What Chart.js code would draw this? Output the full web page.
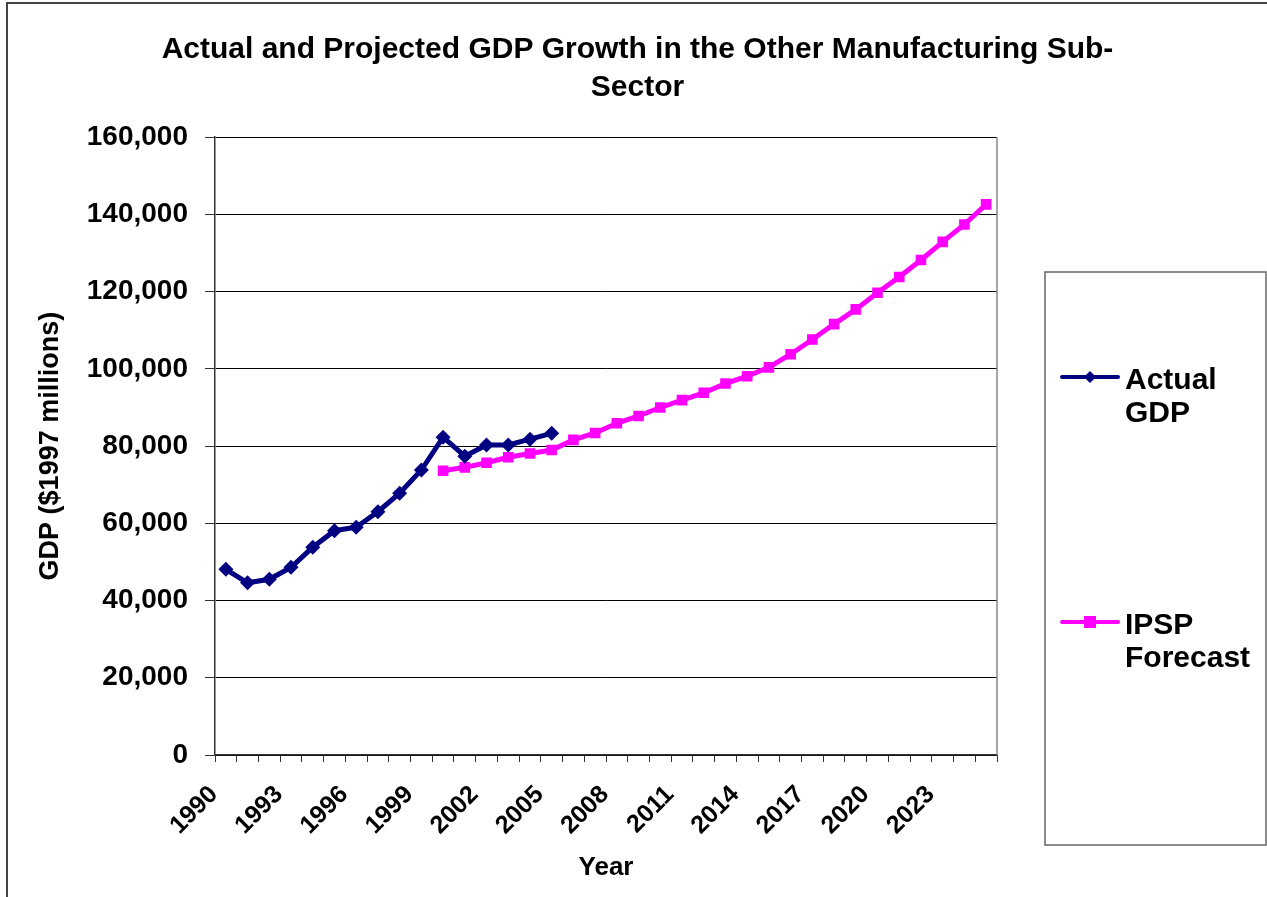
<!DOCTYPE html>
<html>
<head>
<meta charset="utf-8">
<title>Actual and Projected GDP Growth</title>
<script src="https://cdn.jsdelivr.net/npm/chart.js@4.4.1/dist/chart.umd.min.js"></script>
<style>
  html, body { margin: 0; padding: 0; background: #fff; }
  #wrap { width: 1267px; height: 897px; }
</style>
</head>
<body>
<div id="wrap"><canvas id="gdpChart" width="1267" height="897"></canvas></div>
<script>
// --- DATA ---
const years = ['1990', '1991', '1992', '1993', '1994', '1995', '1996', '1997', '1998', '1999',
               '2000', '2001', '2002', '2003', '2004', '2005', '2006', '2007', '2008', '2009',
               '2010', '2011', '2012', '2013', '2014', '2015', '2016', '2017', '2018', '2019',
               '2020', '2021', '2022', '2023', '2024', '2025'];

// Actual GDP, 1990 -> 2005 ($1997 millions)
const actualGdp = [48100, 44600, 45500, 48600, 53800, 58100, 59000, 63000, 67800, 73800,
                   82300, 77400, 80300, 80300, 81800, 83300];

// IPSP forecast, 2000 -> 2025
const forecastStart = '2000';
const forecastGdp = [73600, 74500, 75700, 77100, 78100, 79000, 81600, 83400, 85900, 87800,
                     90000, 91900, 93800, 96200, 98100, 100400, 103800, 107600, 111600, 115400,
                     119700, 123800, 128200, 132900, 137400, 142600];

const yTicks = [0, 20000, 40000, 60000, 80000, 100000, 120000, 140000, 160000];

// --- POINTS ---
const actualPoints = actualGdp.map((v, i) => ({ x: years[i], y: v }));
const fStart = years.indexOf(forecastStart);
const forecastPoints = forecastGdp.map((v, i) => ({ x: years[fStart + i], y: v }));

Chart.defaults.font.family = '"Liberation Sans", Arial, sans-serif';
Chart.defaults.color = '#000';

// cadre extérieur (haut + gauche visibles)
const framePlugin = {
    id: 'frame',
    beforeDraw(chart) {
        const c = chart.ctx;
        c.save();
        c.fillStyle = '#fff';
        c.fillRect(0, 0, chart.width, chart.height);
        c.strokeStyle = '#444';
        c.lineWidth = 2;
        c.beginPath();
        c.moveTo(7, chart.height);
        c.lineTo(7, 3);
        c.lineTo(chart.width, 3);
        c.stroke();
        c.restore();
    },
    beforeDatasetsDraw(chart) {
        // bord droit de la zone de tracé
        const a = chart.chartArea;
        const c = chart.ctx;
        c.save();
        c.strokeStyle = '#888';
        c.lineWidth = 1.5;
        c.beginPath();
        c.moveTo(a.right, a.top);
        c.lineTo(a.right, a.bottom);
        c.stroke();
        c.restore();
    }
};

// légende dans un cadre à droite
const legendBoxPlugin = {
    id: 'legendBox',
    afterDraw(chart) {
        const c = chart.ctx;
        const box = { x: 1045, y: 272, w: 221, h: 573 };
        const rows = [377, 622];
        c.save();
        c.strokeStyle = '#666';
        c.lineWidth = 1.5;
        c.strokeRect(box.x, box.y, box.w, box.h);

        chart.data.datasets.forEach((ds, i) => {
            const y = rows[i];
            c.strokeStyle = ds.borderColor;
            c.lineWidth = 4;
            c.lineCap = 'round';
            c.beginPath();
            c.moveTo(1062, y);
            c.lineTo(1118, y);
            c.stroke();

            c.fillStyle = ds.borderColor;
            c.beginPath();
            if (ds.pointStyle === 'rectRot') {
                c.moveTo(1090, y - 6);
                c.lineTo(1096, y);
                c.lineTo(1090, y + 6);
                c.lineTo(1084, y);
            } else {
                c.rect(1084, y - 6, 12, 12);
            }
            c.closePath();
            c.fill();

            c.fillStyle = '#000';
            c.font = 'bold 30px "Liberation Sans", Arial, sans-serif';
            c.textBaseline = 'alphabetic';
            c.textAlign = 'left';
            ds.label.split(' ').forEach((word, k) => {
                c.fillText(word, 1125, y + 12 + k * 33);
            });
        });
        c.restore();
    }
};

const ctx = document.getElementById('gdpChart').getContext('2d');

new Chart(ctx, {
    type: 'line',
    data: {
        labels: years,
        datasets: [{
            label: 'Actual GDP',
            data: actualPoints,
            borderColor: '#000080',
            backgroundColor: '#000080',
            borderWidth: 5,
            pointStyle: 'rectRot',
            pointRadius: 7.5,
            pointHoverRadius: 7.5,
            pointBorderWidth: 0,
            tension: 0
        }, {
            label: 'IPSP Forecast',
            data: forecastPoints,
            borderColor: '#ff00ff',
            backgroundColor: '#ff00ff',
            borderWidth: 5,
            pointStyle: 'rect',
            pointRadius: 7.5,
            pointHoverRadius: 7.5,
            pointBorderWidth: 0,
            tension: 0
        }]
    },
    options: {
        responsive: false,
        animation: false,
        layout: { padding: { left: 8, top: 0, right: 0, bottom: 0 } },
        plugins: {
            legend: { display: false },
            tooltip: { enabled: false },
            title: {
                display: true,
                text: ['Actual and Projected GDP Growth in the Other Manufacturing Sub-', 'Sector'],
                font: { size: 30, weight: 'bold', lineHeight: 1.27 },
                padding: { top: 31, bottom: 30 },
                color: '#000'
            }
        },
        scales: {
            x: {
                type: 'category',
                offset: true,
                grid: { display: true, drawOnChartArea: false, drawTicks: true, tickLength: 7, offset: true, color: '#333', tickColor: '#333' },
                border: { display: true, color: '#333', width: 1.5 },
                ticks: {
                    autoSkip: false,
                    maxRotation: 45,
                    minRotation: 45,
                    padding: 18,
                    labelOffset: -12,
                    font: { size: 25, weight: 'bold' },
                    callback: function (val, i) {
                        return i % 3 === 0 ? this.getLabelForValue(val) : '';
                    }
                },
                title: { display: true, text: 'Year', font: { size: 26, weight: 'bold' }, padding: { top: 0, bottom: 14 } },
                afterFit: s => { s.height = 142; }
            },
            y: {
                min: yTicks[0],
                max: yTicks[yTicks.length - 1],
                afterBuildTicks: s => { s.ticks = yTicks.map(v => ({ value: v })); },
                ticks: {
                    padding: 17,
                    font: { size: 28, weight: 'bold' },
                    callback: v => v.toLocaleString('en-US')
                },
                grid: { color: '#000', lineWidth: 1, tickLength: 10, tickColor: '#333' },
                border: { color: '#333', width: 1.5 },
                title: { display: true, text: 'GDP ($1997 millions)', font: { size: 27, weight: 'bold' }, padding: { top: 26, bottom: 0 } },
                afterFit: s => { s.width = 207; }
            },
            legendSpace: {
                type: 'linear',
                axis: 'y',
                position: 'right',
                display: true,
                grid: { display: false },
                ticks: { display: false },
                border: { display: false },
                afterFit: s => { s.width = 270; }
            }
        }
    },
    plugins: [framePlugin, legendBoxPlugin]
});
</script>
</body>
</html>
